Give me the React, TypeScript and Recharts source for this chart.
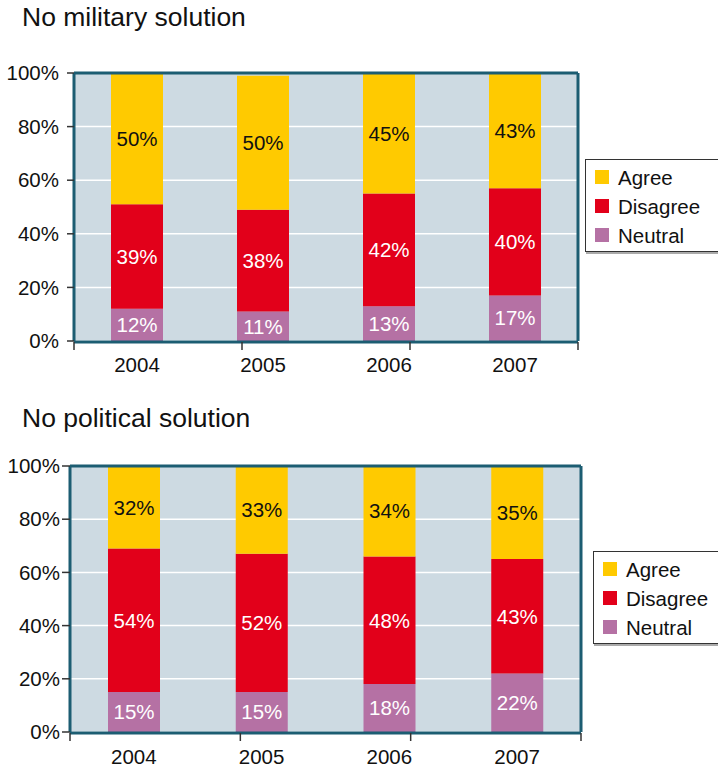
import React from 'react';
import {
  BarChart, Bar, XAxis, YAxis, CartesianGrid, LabelList, Legend
} from 'recharts';

const years = ['2004', '2005', '2006', '2007'];
const seriesNames = ['Agree', 'Disagree', 'Neutral'];

const militaryAgree = [50, 50, 45, 43];
const militaryDisagree = [39, 38, 42, 40];
const militaryNeutral = [12, 11, 13, 17];

const politicalAgree = [32, 33, 34, 35];
const politicalDisagree = [54, 52, 48, 43];
const politicalNeutral = [15, 15, 18, 22];

const yTicks = [0, 20, 40, 60, 80, 100];
const boundaryTicks = [0, 1, 2, 3, 4];

const COLORS: Record<string, string> = {
  Agree: '#ffca00',
  Disagree: '#e2001a',
  Neutral: '#b571a4',
};
const LABEL_COLORS: Record<string, string> = {
  Agree: '#111',
  Disagree: '#fff',
  Neutral: '#fff',
};
const FRAME = '#1c5d72';
const PLOT_BG = '#cddae2';
const FONT = '"Liberation Sans", Arial, Helvetica, sans-serif';
const FS = 20.5;

function buildRows(agree: number[], disagree: number[], neutral: number[]) {
  return years.map((year, i) => ({
    year,
    Agree: agree[i],
    Disagree: disagree[i],
    Neutral: neutral[i],
  }));
}

const militaryData = buildRows(militaryAgree, militaryDisagree, militaryNeutral);
const politicalData = buildRows(politicalAgree, politicalDisagree, politicalNeutral);

function LegendBox({ swatchLeft, textLeft }: { swatchLeft: number; textLeft: number }) {
  return (
    <div
      style={{
        border: '1.5px solid #333',
        background: '#fff',
        boxShadow: '1px 2px 0 #aaa',
        paddingTop: 4,
        height: 87,
        width: 160,
        boxSizing: 'content-box',
      }}
    >
      {seriesNames.map(name => (
        <div key={name} style={{ position: 'relative', height: 29 }}>
          <span
            style={{
              position: 'absolute', left: swatchLeft, top: 6,
              width: 14, height: 14, background: COLORS[name],
            }}
          />
          <span
            style={{
              position: 'absolute', left: textLeft, top: 1.5,
              fontSize: FS, lineHeight: '23px', color: '#111',
            }}
          >
            {name}
          </span>
        </div>
      ))}
    </div>
  );
}

interface PanelProps {
  data: typeof militaryData;
  top: number;
  height: number;
  margin: { top: number; right: number; bottom: number; left: number };
  yWidth: number;
  yTickSize: number;
  yTickMargin: number;
  xTickMargin: number;
  legendPos: { left: number; top: number };
}

function Panel({ data, top, height, margin, yWidth, yTickSize, yTickMargin, xTickMargin, legendPos }: PanelProps) {
  return (
    <div style={{ position: 'absolute', left: 0, top }}>
      <BarChart width={718} height={height} data={data} margin={margin}>
        <CartesianGrid
          vertical={false}
          stroke="#fff"
          strokeWidth={1.5}
          fill={PLOT_BG}
          fillOpacity={1}
        />
        <XAxis
          xAxisId="b"
          type="number"
          domain={[0, 4]}
          allowDataOverflow
          ticks={boundaryTicks}
          height={1}
          tickSize={8}
          tickFormatter={() => ''}
          tickLine={{ stroke: '#333', strokeWidth: 1.5 }}
          axisLine={{ stroke: FRAME, strokeWidth: 3 }}
        />
        <XAxis
          dataKey="year"
          height={1}
          axisLine={false}
          tickLine={false}
          tickSize={0}
          tickMargin={xTickMargin}
          tick={{ fill: '#111', fontSize: FS }}
        />
        <XAxis
          xAxisId="t"
          dataKey="year"
          orientation="top"
          height={1}
          tick={false}
          tickLine={false}
          axisLine={{ stroke: FRAME, strokeWidth: 3 }}
        />
        <YAxis
          width={yWidth}
          domain={[0, 100]}
          allowDataOverflow
          ticks={yTicks}
          interval={0}
          tickSize={yTickSize}
          tickMargin={yTickMargin}
          tickFormatter={v => `${v}%`}
          tick={{ fill: '#111', fontSize: FS }}
          tickLine={{ stroke: '#333', strokeWidth: 1.5 }}
          axisLine={{ stroke: FRAME, strokeWidth: 3 }}
        />
        <YAxis
          yAxisId="r"
          orientation="right"
          width={1}
          domain={[0, 100]}
          tick={false}
          tickLine={false}
          axisLine={{ stroke: FRAME, strokeWidth: 3 }}
        />
        {['Neutral', 'Disagree', 'Agree'].map(name => (
          <Bar
            key={name}
            dataKey={name}
            stackId="a"
            fill={COLORS[name]}
            barSize={52}
            isAnimationActive={false}
          >
            <LabelList
              dataKey={name}
              position="center"
              fill={LABEL_COLORS[name]}
              fontSize={FS}
              formatter={(v: any) => `${v}%`}
            />
          </Bar>
        ))}
        <Legend
          layout="vertical"
          align="center"
          verticalAlign="middle"
          wrapperStyle={{ left: legendPos.left, top: legendPos.top, width: 165 }}
          content={() => <LegendBox swatchLeft={9} textLeft={32} />}
        />
      </BarChart>
    </div>
  );
}

export default function App() {
  return (
    <div
      style={{
        position: 'absolute', left: 0, top: 0, width: 718, height: 769,
        overflow: 'hidden', background: '#fff', fontFamily: FONT,
      }}
    >
      <div style={{ position: 'absolute', left: 22, top: 4, fontSize: 26.5, lineHeight: '26.5px', color: '#111', whiteSpace: 'nowrap' }}>
        No military solution
      </div>
      <Panel
        data={militaryData}
        top={0}
        height={390}
        margin={{ top: 72, right: 139, bottom: 47, left: 0 }}
        yWidth={74}
        yTickSize={7}
        yTickMargin={8}
        xTickMargin={16}
        legendPos={{ left: 585, top: 159 }}
      />
      <div style={{ position: 'absolute', left: 22, top: 405, fontSize: 26.5, lineHeight: '26.5px', color: '#111', whiteSpace: 'nowrap' }}>
        No political solution
      </div>
      <Panel
        data={politicalData}
        top={390}
        height={379}
        margin={{ top: 75, right: 136, bottom: 35, left: 0 }}
        yWidth={70}
        yTickSize={8}
        yTickMargin={2}
        xTickMargin={17}
        legendPos={{ left: 593, top: 161 }}
      />
    </div>
  );
}
